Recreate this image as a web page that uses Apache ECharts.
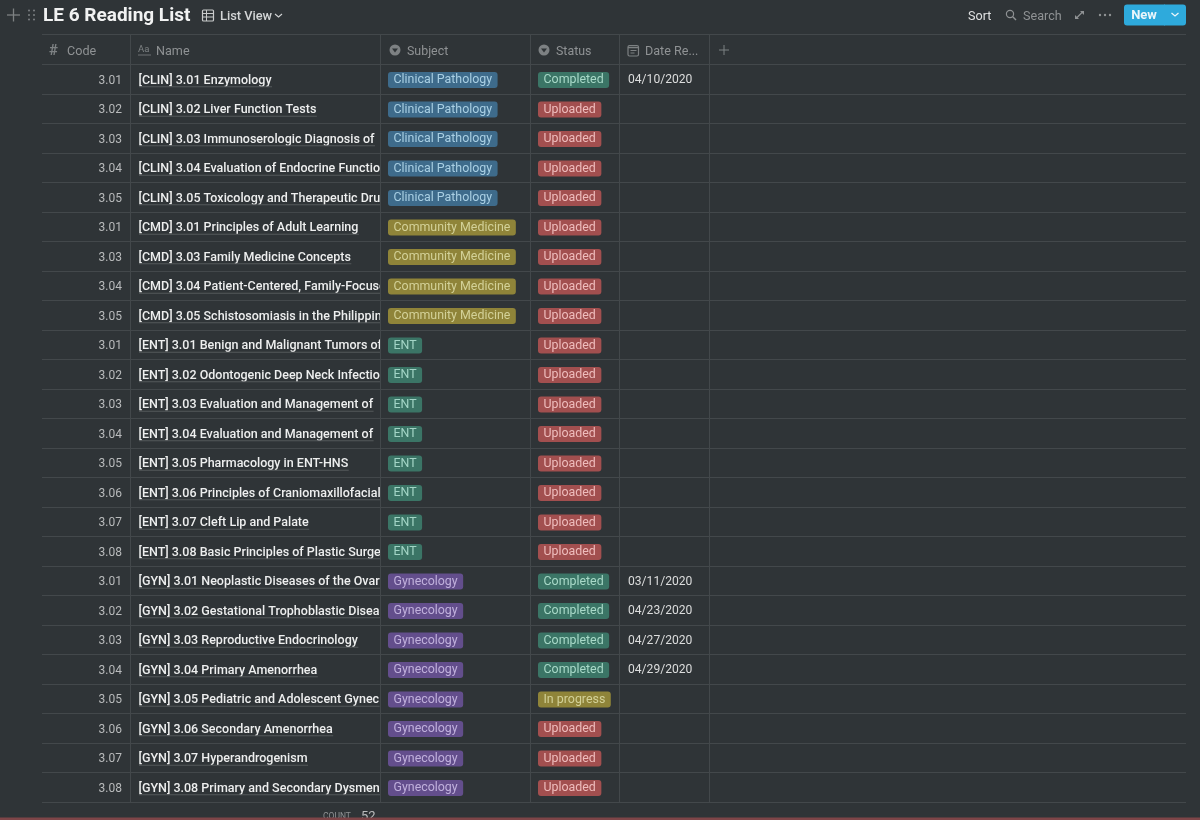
<!DOCTYPE html>
<html>
<head>
<meta charset="utf-8">
<title>LE 6 Reading List</title>
<style>
  html, body { margin: 0; padding: 0; background: #2f3437; }
  #main { width: 1200px; height: 820px; }
</style>
<script src="https://cdn.jsdelivr.net/npm/echarts@6/dist/echarts.min.js"></script>
</head>
<body>
<div id="main"></div>
<script>
// 表格数据
var codes = ['3.01','3.02','3.03','3.04','3.05','3.01','3.03','3.04','3.05','3.01','3.02','3.03','3.04','3.05','3.06','3.07','3.08','3.01','3.02','3.03','3.04','3.05','3.06','3.07','3.08'];
var names = [
  '[CLIN] 3.01 Enzymology',
  '[CLIN] 3.02 Liver Function Tests',
  '[CLIN] 3.03 Immunoserologic Diagnosis of',
  '[CLIN] 3.04 Evaluation of Endocrine Function',
  '[CLIN] 3.05 Toxicology and Therapeutic Drug',
  '[CMD] 3.01 Principles of Adult Learning',
  '[CMD] 3.03 Family Medicine Concepts',
  '[CMD] 3.04 Patient-Centered, Family-Focused',
  '[CMD] 3.05 Schistosomiasis in the Philippines',
  '[ENT] 3.01 Benign and Malignant Tumors of',
  '[ENT] 3.02 Odontogenic Deep Neck Infection',
  '[ENT] 3.03 Evaluation and Management of',
  '[ENT] 3.04 Evaluation and Management of',
  '[ENT] 3.05 Pharmacology in ENT-HNS',
  '[ENT] 3.06 Principles of Craniomaxillofacial',
  '[ENT] 3.07 Cleft Lip and Palate',
  '[ENT] 3.08 Basic Principles of Plastic Surgery',
  '[GYN] 3.01 Neoplastic Diseases of the Ovary',
  '[GYN] 3.02 Gestational Trophoblastic Disease',
  '[GYN] 3.03 Reproductive Endocrinology',
  '[GYN] 3.04 Primary Amenorrhea',
  '[GYN] 3.05 Pediatric and Adolescent Gynec',
  '[GYN] 3.06 Secondary Amenorrhea',
  '[GYN] 3.07 Hyperandrogenism',
  '[GYN] 3.08 Primary and Secondary Dysmen'
];
var subjects = [
  'Clinical Pathology','Clinical Pathology','Clinical Pathology','Clinical Pathology','Clinical Pathology',
  'Community Medicine','Community Medicine','Community Medicine','Community Medicine',
  'ENT','ENT','ENT','ENT','ENT','ENT','ENT','ENT',
  'Gynecology','Gynecology','Gynecology','Gynecology','Gynecology','Gynecology','Gynecology','Gynecology'
];
var statuses = [
  'Completed','Uploaded','Uploaded','Uploaded','Uploaded','Uploaded','Uploaded','Uploaded','Uploaded',
  'Uploaded','Uploaded','Uploaded','Uploaded','Uploaded','Uploaded','Uploaded','Uploaded',
  'Completed','Completed','Completed','Completed','In progress','Uploaded','Uploaded','Uploaded'
];
var dates = ['04/10/2020','','','','','','','','','','','','','','','','','03/11/2020','04/23/2020','04/27/2020','04/29/2020','','','',''];
var headers = ['Code','Name','Subject','Status','Date Re...'];

// 标签颜色
var tagColors = {
  'Clinical Pathology': ['#3e6b8b', '#a9cfe3'],
  'Community Medicine': ['#8f8439', '#d3d198'],
  'ENT': ['#3b7566', '#a3d5c6'],
  'Gynecology': ['#634e8c', '#c0b0dc'],
  'Completed': ['#3b7566', '#a8d9c8'],
  'Uploaded': ['#a24f4f', '#eebcbc'],
  'In progress': ['#8f8439', '#d3d198']
};

var FONT = 'Roboto, "Noto Sans", sans-serif';
var LINE = '#43484b';
var MUTED = '#8f9294';
var ICON = '#7d8183';
var colLines = [130.5, 380.5, 530.5, 619.5, 709.5];

var measure = document.createElement('canvas').getContext('2d');
function textWidth(text, font) {
  measure.font = font;
  return measure.measureText(text).width;
}

var myChart = echarts.init(document.getElementById('main'));

// 每一列一个 custom 系列
function cellSeries(values, renderCell) {
  return {
    type: 'custom',
    coordinateSystem: 'cartesian2d',
    silent: true,
    clip: false,
    data: values.map(function (v, i) { return [0, i]; }),
    renderItem: function (params, api) {
      var row = api.value(1);
      var y = api.coord([42, row])[1];
      return renderCell(values[row], y, api);
    }
  };
}

function tagCell(x) {
  return function (text, y) {
    var c = tagColors[text];
    return {
      type: 'text',
      style: {
        text: text, x: x, y: y + 0.75,
        font: '12.4px ' + FONT,
        fill: c[1],
        backgroundColor: c[0],
        borderRadius: 3,
        padding: [1.5, 5.5, 0, 5.5],
        lineHeight: 14.5,
        align: 'left',
        verticalAlign: 'middle'
      }
    };
  };
}

function gText(text, x, y, font, fill, align) {
  return {
    type: 'text',
    z: 20,
    style: { text: text, x: x, y: y, font: font, fill: fill, align: align || 'left', verticalAlign: 'middle' }
  };
}
function gLine(x1, y1, x2, y2, color, width) {
  return {
    type: 'line',
    z: 5,
    shape: { x1: x1, y1: y1, x2: x2, y2: y2 },
    style: { stroke: color, lineWidth: width || 1, fill: null }
  };
}
function gRect(x, y, w, h, fill, r, z) {
  return { type: 'rect', z: z || 10, shape: { x: x, y: y, width: w, height: h, r: r || 0 }, style: { fill: fill } };
}
// 下拉圆形图标
function selectIcon(cx, cy) {
  return [
    { type: 'circle', z: 10, shape: { cx: cx, cy: cy, r: 5.5 }, style: { fill: ICON } },
    { type: 'polygon', z: 11, shape: { points: [[cx - 3, cy - 1.5], [cx + 3, cy - 1.5], [cx, cy + 2.5]] }, style: { fill: '#2f3437' } }
  ];
}

// 顶部工具栏 + 表头
var chrome = [
  gLine(42, 34.5, 1186, 34.5, LINE),
  gLine(7, 15, 20, 15, ICON, 1.3),
  gLine(13.5, 8.5, 13.5, 21.5, ICON, 1.3),
  gText('LE 6 Reading List', 43, 16.5, 'bold 19px ' + FONT, '#f1f2f2'),
  { type: 'rect', z: 10, shape: { x: 202.5, y: 10, width: 11, height: 11, r: 1 }, style: { stroke: '#c9cbcc', fill: null, lineWidth: 1.2 } },
  gLine(202.5, 13.5, 213.5, 13.5, '#c9cbcc', 1),
  gLine(202.5, 17, 213.5, 17, '#c9cbcc', 1),
  gLine(206.5, 10, 206.5, 21, '#c9cbcc', 1),
  gText('List View', 220, 16.5, '500 12.8px ' + FONT, '#d3d5d6'),
  { type: 'polyline', z: 10, shape: { points: [[275, 14], [278.5, 17], [282, 14]] }, style: { stroke: '#d3d5d6', fill: null, lineWidth: 1.1 } },
  gText('Sort', 968, 16.5, '12.6px ' + FONT, '#dfe0e1'),
  { type: 'circle', z: 10, shape: { cx: 1010, cy: 14, r: 3.6 }, style: { stroke: MUTED, fill: null, lineWidth: 1.2 } },
  gLine(1012.8, 16.8, 1016, 20, MUTED, 1.4),
  gText('Search', 1023, 16.5, '12.6px ' + FONT, MUTED),
  gLine(1076, 18.5, 1083, 11.5, MUTED, 1.2),
  { type: 'polygon', z: 10, shape: { points: [[1080, 11], [1084, 11], [1084, 15]] }, style: { fill: MUTED } },
  { type: 'polygon', z: 10, shape: { points: [[1075, 15], [1075, 19], [1079, 19]] }, style: { fill: MUTED } },
  { type: 'circle', z: 10, shape: { cx: 1100, cy: 15, r: 1.2 }, style: { fill: MUTED } },
  { type: 'circle', z: 10, shape: { cx: 1105, cy: 15, r: 1.2 }, style: { fill: MUTED } },
  { type: 'circle', z: 10, shape: { cx: 1110, cy: 15, r: 1.2 }, style: { fill: MUTED } },
  gRect(1124, 4.5, 62, 21, '#2eaadc', 3),
  gLine(1164.5, 4.5, 1164.5, 25.5, '#2a9bca', 1),
  gText('New', 1144, 16, 'bold 13px ' + FONT, '#eaf6fb', 'center'),
  { type: 'polyline', z: 11, shape: { points: [[1171.5, 13], [1175, 16], [1178.5, 13]] }, style: { stroke: '#eaf6fb', fill: null, lineWidth: 1.3 } },
  // 拖动点
  { type: 'circle', z: 10, shape: { cx: 29, cy: 10.5, r: 1 }, style: { fill: ICON } },
  { type: 'circle', z: 10, shape: { cx: 34, cy: 10.5, r: 1 }, style: { fill: ICON } },
  { type: 'circle', z: 10, shape: { cx: 29, cy: 15, r: 1 }, style: { fill: ICON } },
  { type: 'circle', z: 10, shape: { cx: 34, cy: 15, r: 1 }, style: { fill: ICON } },
  { type: 'circle', z: 10, shape: { cx: 29, cy: 19.5, r: 1 }, style: { fill: ICON } },
  { type: 'circle', z: 10, shape: { cx: 34, cy: 19.5, r: 1 }, style: { fill: ICON } },
  // 表头
  gText('#', 49, 51, 'bold 15px ' + FONT, ICON),
  gText(headers[0], 67, 52, '12.6px ' + FONT, MUTED),
  gText('Aa', 138, 49.5, '9.5px ' + FONT, ICON),
  gLine(138, 55, 151, 55, ICON, 0.8),
  gText(headers[1], 156, 52, '12.6px ' + FONT, MUTED),
  gText(headers[2], 407, 52, '12.4px ' + FONT, MUTED),
  gText(headers[3], 556, 52, '12.4px ' + FONT, MUTED),
  { type: 'rect', z: 10, shape: { x: 628, y: 45.5, width: 10.5, height: 10.5, r: 1.5 }, style: { stroke: ICON, fill: null, lineWidth: 1.2 } },
  gLine(628, 47.5, 638.5, 47.5, ICON, 1.5),
  gLine(630.5, 50.5, 636.5, 50.5, ICON, 1),
  gLine(630.5, 53, 634.5, 53, ICON, 1),
  gText(headers[4], 645, 52, '12.6px ' + FONT, MUTED),
  gLine(719, 50, 729, 50, ICON, 1),
  gLine(724, 45, 724, 55, ICON, 1),
  // 底部统计 + 红色条
  gText('COUNT', 323, 817, '8.5px ' + FONT, MUTED),
  gText('52', 361, 816.5, '13px ' + FONT, '#b9bbbc'),
  gRect(0, 817.5, 1200, 3, '#7e4548', 0, 30)
].concat(selectIcon(395, 50), selectIcon(544, 50));

colLines.forEach(function (x) {
  chrome.push(gLine(x, 34.5, x, 802, LINE));
});

var option = {
  backgroundColor: '#2f3437',
  animation: false,
  grid: { left: 42, top: 64.5, width: 1144, height: 737.5, containLabel: false },
  xAxis: { type: 'value', min: 42, max: 1186, show: false },
  yAxis: {
    type: 'category',
    inverse: true,
    data: codes.map(function (c, i) { return i; }),
    axisLine: { show: false },
    axisTick: { show: false },
    axisLabel: { show: false },
    splitLine: { show: true, showMinLine: true, showMaxLine: true, lineStyle: { color: LINE, width: 1 } }
  },
  graphic: { elements: chrome },
  series: [
    // Code 列
    cellSeries(codes, function (text, y) {
      return {
        type: 'text',
        style: { text: text, x: 122, y: y + 1.5, font: '12px ' + FONT, fill: '#b9bbbc', align: 'right', verticalAlign: 'middle' }
      };
    }),
    // Name 列，超出部分裁剪
    cellSeries(names, function (text, y) {
      var font = '500 12.5px ' + FONT;
      var w = Math.min(textWidth(text, font), 381 - 139);
      return {
        type: 'group',
        children: [
          {
            type: 'text',
            clipPath: { type: 'rect', shape: { x: 130, y: y - 14, width: 250, height: 28 } },
            style: { text: text, x: 138.5, y: y + 1.2, font: font, fill: '#eeefef', align: 'left', verticalAlign: 'middle' }
          },
          {
            type: 'line',
            shape: { x1: 139, y1: y + 7.5, x2: 139 + w, y2: y + 7.5 },
            style: { stroke: '#54585b', lineWidth: 1 }
          }
        ]
      };
    }),
    cellSeries(subjects, tagCell(388)),
    cellSeries(statuses, tagCell(538)),
    // Date 列
    cellSeries(dates, function (text, y) {
      return {
        type: 'text',
        style: { text: text, x: 628, y: y + 1.2, font: '12.1px ' + FONT, fill: '#dcdddd', align: 'left', verticalAlign: 'middle' }
      };
    })
  ]
};
myChart.setOption(option);
</script>
</body>
</html>
